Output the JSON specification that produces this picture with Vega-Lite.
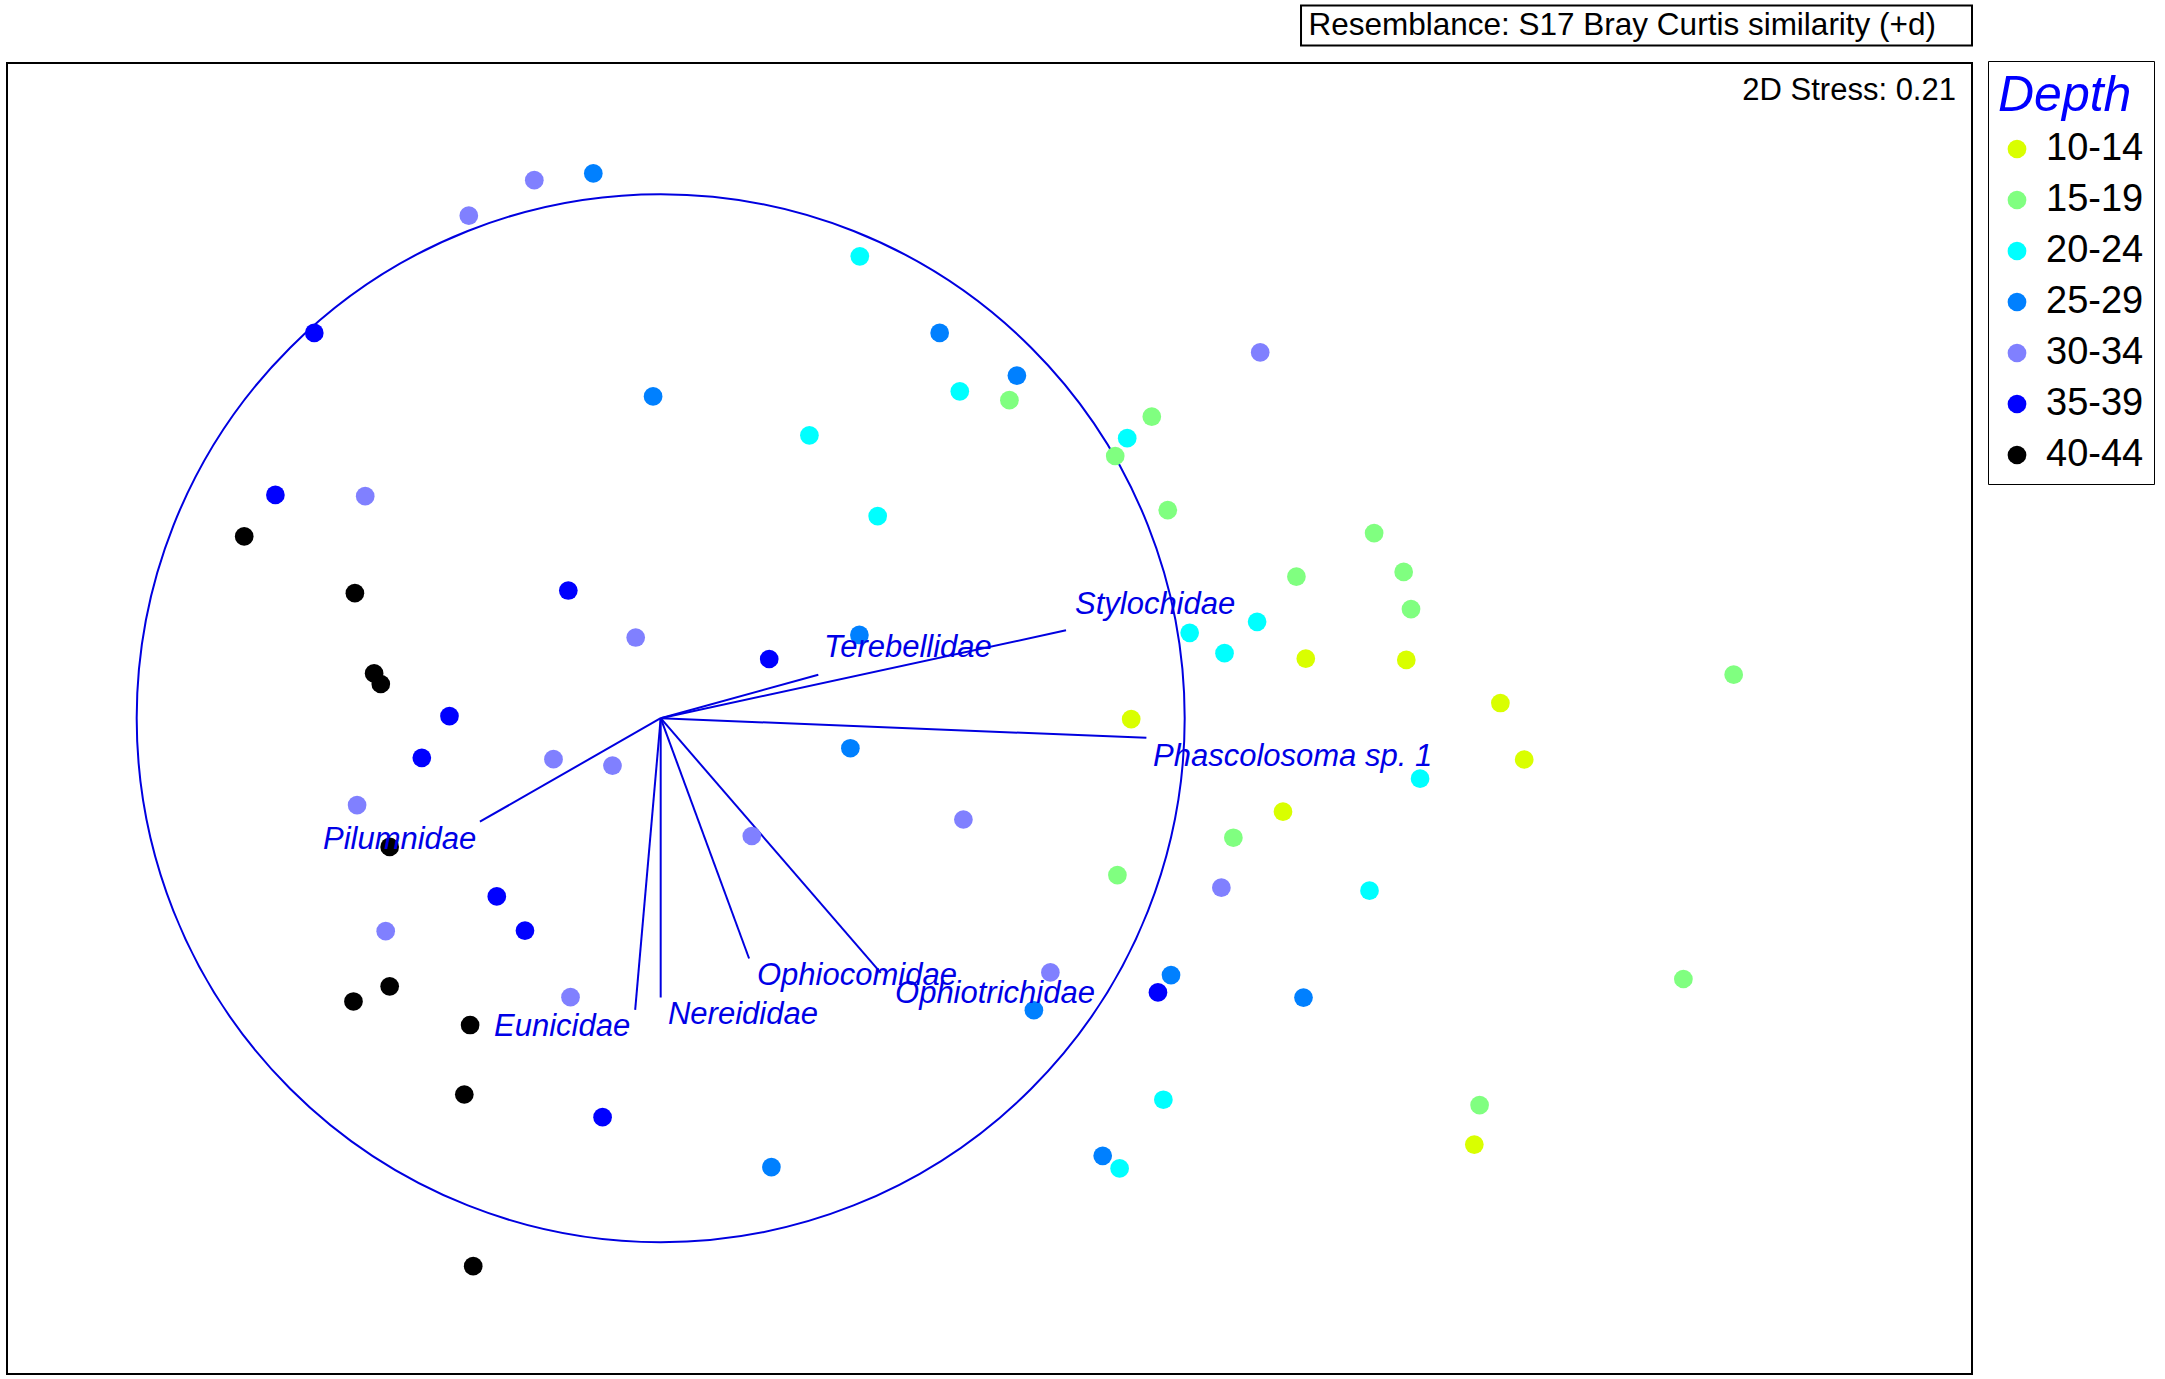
{
  "$schema": "https://vega.github.io/schema/vega-lite/v6.json",
  "width": 1965,
  "height": 1311,
  "autosize": {"type": "none"},
  "padding": {"left": 7, "top": 63, "right": 193, "bottom": 5},
  "background": "white",
  "config": {
    "view": {"stroke": "black", "strokeWidth": 2},
    "font": "Liberation Sans",
    "legend": {
      "orient": "none",
      "legendX": 1981,
      "legendY": -2,
      "strokeColor": "black",
      "padding": 10,
      "titleFont": "Liberation Sans",
      "titleFontStyle": "italic",
      "titleFontWeight": "normal",
      "titleFontSize": 50,
      "titleColor": "#0000FF",
      "titlePadding": 9,
      "labelFont": "Liberation Sans",
      "labelFontSize": 38,
      "labelColor": "black",
      "labelOffset": 10,
      "rowPadding": 13,
      "symbolType": "circle",
      "symbolSize": 350,
      "symbolStrokeWidth": 0,
      "symbolOpacity": 1
    }
  },
  "datasets": {
    "samples": [
      {"x": -0.3662, "y": 0.9590, "depth": "30-34"},
      {"x": -0.2412, "y": 1.0267, "depth": "30-34"},
      {"x": -0.1286, "y": 1.0397, "depth": "25-29"},
      {"x": -0.6611, "y": 0.7353, "depth": "35-39"},
      {"x": 0.3800, "y": 0.8815, "depth": "20-24"},
      {"x": 0.5324, "y": 0.7353, "depth": "25-29"},
      {"x": 0.6798, "y": 0.6538, "depth": "25-29"},
      {"x": -0.0145, "y": 0.6141, "depth": "25-29"},
      {"x": 0.5708, "y": 0.6239, "depth": "20-24"},
      {"x": 0.2838, "y": 0.5399, "depth": "20-24"},
      {"x": 0.8903, "y": 0.5344, "depth": "20-24"},
      {"x": 0.4141, "y": 0.3857, "depth": "20-24"},
      {"x": 0.6655, "y": 0.6069, "depth": "15-19"},
      {"x": 0.9372, "y": 0.5754, "depth": "15-19"},
      {"x": 0.8674, "y": 0.5004, "depth": "15-19"},
      {"x": 0.9677, "y": 0.3971, "depth": "15-19"},
      {"x": 1.1441, "y": 0.6981, "depth": "30-34"},
      {"x": 1.3615, "y": 0.3534, "depth": "15-19"},
      {"x": 1.2132, "y": 0.2702, "depth": "15-19"},
      {"x": 1.4179, "y": 0.2792, "depth": "15-19"},
      {"x": 1.4319, "y": 0.2082, "depth": "15-19"},
      {"x": 1.0095, "y": 0.1630, "depth": "20-24"},
      {"x": 1.1382, "y": 0.1840, "depth": "20-24"},
      {"x": 1.0760, "y": 0.1242, "depth": "20-24"},
      {"x": 1.2311, "y": 0.1137, "depth": "10-14"},
      {"x": 1.4229, "y": 0.1113, "depth": "10-14"},
      {"x": 1.6025, "y": 0.0290, "depth": "10-14"},
      {"x": 1.6479, "y": -0.0788, "depth": "10-14"},
      {"x": 0.8979, "y": -0.0017, "depth": "10-14"},
      {"x": 1.1876, "y": -0.1784, "depth": "10-14"},
      {"x": 2.0477, "y": 0.0830, "depth": "15-19"},
      {"x": 1.4492, "y": -0.1153, "depth": "20-24"},
      {"x": -0.7353, "y": 0.4261, "depth": "35-39"},
      {"x": -0.5639, "y": 0.4237, "depth": "30-34"},
      {"x": -0.7948, "y": 0.3469, "depth": "40-44"},
      {"x": -0.5836, "y": 0.2387, "depth": "40-44"},
      {"x": -0.1763, "y": 0.2437, "depth": "35-39"},
      {"x": -0.0477, "y": 0.1540, "depth": "30-34"},
      {"x": 0.3792, "y": 0.1590, "depth": "25-29"},
      {"x": 0.2071, "y": 0.1130, "depth": "35-39"},
      {"x": -0.5469, "y": 0.0855, "depth": "40-44"},
      {"x": -0.5342, "y": 0.0653, "depth": "40-44"},
      {"x": -0.4031, "y": 0.0040, "depth": "35-39"},
      {"x": -0.4559, "y": -0.0756, "depth": "35-39"},
      {"x": -0.2046, "y": -0.0781, "depth": "30-34"},
      {"x": -0.0920, "y": -0.0905, "depth": "30-34"},
      {"x": 0.3620, "y": -0.0573, "depth": "25-29"},
      {"x": -0.5794, "y": -0.1658, "depth": "30-34"},
      {"x": -0.5172, "y": -0.2456, "depth": "40-44"},
      {"x": 0.1739, "y": -0.2248, "depth": "30-34"},
      {"x": 0.5777, "y": -0.1933, "depth": "30-34"},
      {"x": 1.0929, "y": -0.2281, "depth": "15-19"},
      {"x": 0.8716, "y": -0.2994, "depth": "15-19"},
      {"x": 1.0700, "y": -0.3235, "depth": "30-34"},
      {"x": 1.3527, "y": -0.3292, "depth": "20-24"},
      {"x": -0.3128, "y": -0.3401, "depth": "35-39"},
      {"x": -0.2590, "y": -0.4055, "depth": "35-39"},
      {"x": -0.5248, "y": -0.4065, "depth": "30-34"},
      {"x": -0.5172, "y": -0.5116, "depth": "40-44"},
      {"x": -0.5863, "y": -0.5406, "depth": "40-44"},
      {"x": -0.1721, "y": -0.5324, "depth": "30-34"},
      {"x": 0.7437, "y": -0.4851, "depth": "30-34"},
      {"x": 0.9739, "y": -0.4901, "depth": "25-29"},
      {"x": 1.2267, "y": -0.5332, "depth": "25-29"},
      {"x": 0.7122, "y": -0.5573, "depth": "25-29"},
      {"x": 0.9490, "y": -0.5233, "depth": "35-39"},
      {"x": 1.9517, "y": -0.4977, "depth": "15-19"},
      {"x": -0.3637, "y": -0.5855, "depth": "40-44"},
      {"x": 0.9593, "y": -0.7281, "depth": "20-24"},
      {"x": 1.5628, "y": -0.7382, "depth": "15-19"},
      {"x": 1.5527, "y": -0.8136, "depth": "10-14"},
      {"x": -0.3748, "y": -0.7181, "depth": "40-44"},
      {"x": -0.1109, "y": -0.7613, "depth": "35-39"},
      {"x": 0.2113, "y": -0.8567, "depth": "25-29"},
      {"x": 0.8435, "y": -0.8351, "depth": "25-29"},
      {"x": 0.8758, "y": -0.8592, "depth": "20-24"},
      {"x": -0.3578, "y": -1.0458, "depth": "40-44"}
    ],
    "vectors": [
      {"taxon": "Stylochidae", "x": 0, "y": 0, "ex": 0.7735, "ey": 0.1677, "lx": 0.7906, "ly": 0.2160},
      {"taxon": "Terebellidae", "x": 0, "y": 0, "ex": 0.3008, "ey": 0.0828, "lx": 0.3118, "ly": 0.1349},
      {"taxon": "Phascolosoma sp. 1", "x": 0, "y": 0, "ex": 0.9269, "ey": -0.0374, "lx": 0.9395, "ly": -0.0733},
      {"taxon": "Pilumnidae", "x": 0, "y": 0, "ex": -0.3450, "ey": -0.1975, "lx": -0.6445, "ly": -0.2315},
      {"taxon": "Eunicidae", "x": 0, "y": 0, "ex": -0.0487, "ey": -0.5565, "lx": -0.3181, "ly": -0.5893},
      {"taxon": "Nereididae", "x": 0, "y": 0, "ex": 0.0, "ey": -0.5332, "lx": 0.0139, "ly": -0.5660},
      {"taxon": "Ophiocomidae", "x": 0, "y": 0, "ex": 0.1687, "ey": -0.4586, "lx": 0.1838, "ly": -0.4920},
      {"taxon": "Ophiotrichidae", "x": 0, "y": 0, "ex": 0.4200, "ey": -0.4861, "lx": 0.4472, "ly": -0.5263}
    ],
    "circle": [{"x": 0, "y": 0}],
    "notes": [
      {"x": 2.4719, "y": 1.197, "t": "2D Stress: 0.21"}
    ],
    "header": [
      {"x": 1.2220, "x2": 2.5025, "y": 1.2836, "y2": 1.3601, "xm": 1.835, "ym": 1.3218, "t": "Resemblance: S17 Bray Curtis similarity (+d)"}
    ]
  },
  "layer": [
    {
      "data": {"name": "header"},
      "mark": {"type": "rect", "fill": "white", "stroke": "black", "strokeWidth": 2, "clip": false},
      "encoding": {
        "x": {"field": "x", "type": "quantitative", "scale": {"domain": [-1.2475, 2.5025], "nice": false, "zero": false}, "axis": null},
        "x2": {"field": "x2"},
        "y": {"field": "y", "type": "quantitative", "scale": {"domain": [-1.2515, 1.2504], "nice": false, "zero": false}, "axis": null},
        "y2": {"field": "y2"}
      }
    },
    {
      "data": {"name": "header"},
      "mark": {"type": "text", "align": "center", "baseline": "middle", "fontSize": 31.5, "font": "Liberation Sans", "color": "black", "clip": false},
      "encoding": {
        "x": {"field": "xm", "type": "quantitative", "scale": {"domain": [-1.2475, 2.5025], "nice": false, "zero": false}, "axis": null},
        "y": {"field": "ym", "type": "quantitative", "scale": {"domain": [-1.2515, 1.2504], "nice": false, "zero": false}, "axis": null},
        "text": {"field": "t"}
      }
    },
    {
      "data": {"name": "notes"},
      "mark": {"type": "text", "align": "right", "baseline": "middle", "fontSize": 31, "font": "Liberation Sans", "color": "black"},
      "encoding": {
        "x": {"field": "x", "type": "quantitative", "scale": {"domain": [-1.2475, 2.5025], "nice": false, "zero": false}, "axis": null},
        "y": {"field": "y", "type": "quantitative", "scale": {"domain": [-1.2515, 1.2504], "nice": false, "zero": false}, "axis": null},
        "text": {"field": "t"}
      }
    },
    {
      "data": {"name": "circle"},
      "mark": {"type": "point", "shape": "circle", "filled": false, "size": 1098304, "stroke": "#0000E0", "strokeWidth": 2, "opacity": 1},
      "encoding": {
        "x": {"field": "x", "type": "quantitative", "scale": {"domain": [-1.2475, 2.5025], "nice": false, "zero": false}, "axis": null},
        "y": {"field": "y", "type": "quantitative", "scale": {"domain": [-1.2515, 1.2504], "nice": false, "zero": false}, "axis": null}
      }
    },
    {
      "data": {"name": "vectors"},
      "mark": {"type": "rule", "color": "#0000E0", "strokeWidth": 2},
      "encoding": {
        "x": {"field": "x", "type": "quantitative", "scale": {"domain": [-1.2475, 2.5025], "nice": false, "zero": false}, "axis": null},
        "y": {"field": "y", "type": "quantitative", "scale": {"domain": [-1.2515, 1.2504], "nice": false, "zero": false}, "axis": null},
        "x2": {"field": "ex"},
        "y2": {"field": "ey"}
      }
    },
    {
      "data": {"name": "samples"},
      "mark": {"type": "circle", "size": 350, "opacity": 1},
      "encoding": {
        "x": {"field": "x", "type": "quantitative", "scale": {"domain": [-1.2475, 2.5025], "nice": false, "zero": false}, "axis": null},
        "y": {"field": "y", "type": "quantitative", "scale": {"domain": [-1.2515, 1.2504], "nice": false, "zero": false}, "axis": null},
        "color": {
          "field": "depth",
          "type": "nominal",
          "title": "Depth",
          "scale": {
            "domain": ["10-14", "15-19", "20-24", "25-29", "30-34", "35-39", "40-44"],
            "range": ["#D9FF00", "#80FF80", "#00FFFF", "#0080FF", "#8080FF", "#0000FF", "#000000"]
          }
        }
      }
    },
    {
      "data": {"name": "vectors"},
      "mark": {"type": "text", "align": "left", "baseline": "middle", "fontSize": 31, "font": "Liberation Sans", "fontStyle": "italic", "color": "#0000E6"},
      "encoding": {
        "x": {"field": "lx", "type": "quantitative", "scale": {"domain": [-1.2475, 2.5025], "nice": false, "zero": false}, "axis": null},
        "y": {"field": "ly", "type": "quantitative", "scale": {"domain": [-1.2515, 1.2504], "nice": false, "zero": false}, "axis": null},
        "text": {"field": "taxon"}
      }
    }
  ]
}
